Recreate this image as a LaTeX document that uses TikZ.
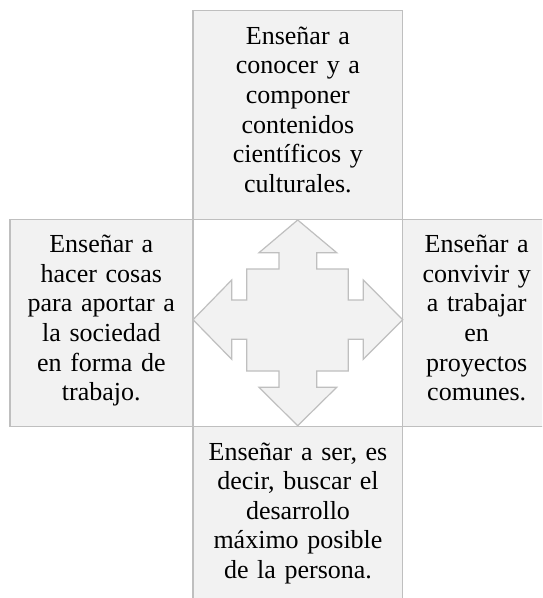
\documentclass[tikz,border=0pt]{standalone}
\usepackage{fontspec}
\setmainfont{Liberation Serif}
\definecolor{boxfill}{HTML}{F2F2F2}
\definecolor{boxline}{HTML}{BFBFBF}
\tikzset{
  panel/.style={draw=boxline, fill=boxfill, line width=1.2pt},
  quadarrow/.style={draw=boxline, fill=boxfill, line width=1.2pt, line join=miter},
  label/.style={inner sep=0pt, text width=210pt, align=center, anchor=base,
    font=\fontsize{26}{29.6}\selectfont, text=black}
}
\begin{document}
\begin{tikzpicture}[x=1pt,y=-1pt]
\useasboundingbox (0,0) rectangle (542,598);
\clip (0,0) rectangle (542,598);
\fill[white] (0,0) rectangle (542,598);
% boxes
\draw[panel] (193,10.7) rectangle (402.7,219.3);
\draw[panel] (10,219.3) rectangle (193,426.7);
\draw[panel] (402.7,219.3) rectangle (560,426.7);
\draw[panel] (193,426.7) rectangle (402.7,620);
\draw[draw=boxline, line width=1.2pt, fill=white] (193,219.3) rectangle (402.7,426.7);
% four-way arrow
\draw[quadarrow]
  (297.7,220) -- (336.7,252.7) -- (316.7,252.7) -- (316.7,269) -- (348.3,269)
  -- (348.3,300) -- (363.3,300) -- (363.3,280) -- (402.7,319.7) -- (363.3,359.3)
  -- (363.3,339.3) -- (348.3,339.3) -- (348.3,371) -- (316.7,371) -- (316.7,387.3)
  -- (336.7,387.3) -- (297.7,425.7) -- (259,387.3) -- (279,387.3) -- (279,371)
  -- (246.7,371) -- (246.7,339.3) -- (231.7,339.3) -- (231.7,359.3) -- (193,319.7)
  -- (231.7,280) -- (231.7,300) -- (246.7,300) -- (246.7,269) -- (279,269)
  -- (279,252.7) -- (259,252.7) -- cycle;
% texts
\node[label] (ttop) at (297.9,44.3) {Enseñar a\\conocer y a\\componer\\contenidos\\científicos y\\culturales.};
\node[label] (tleft) at (101.3,252.7) {Enseñar a\\hacer cosas\\para aportar a\\la sociedad\\en forma de\\trabajo.};
\node[label] (tright) at (476.7,252.7) {Enseñar a\\convivir y\\a trabajar\\en\\proyectos\\comunes.};
\node[label] (tbottom) at (298,460) {Enseñar a ser, es\\decir, buscar el\\desarrollo\\máximo posible\\de la persona.};
\end{tikzpicture}
\end{document}
